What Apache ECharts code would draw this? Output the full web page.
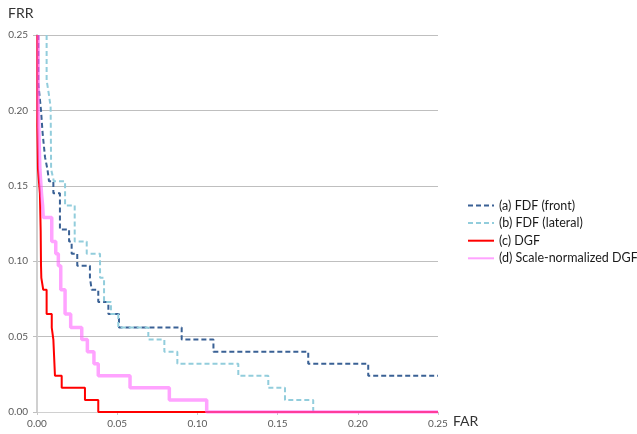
<!DOCTYPE html>
<html>
<head>
<meta charset="utf-8">
<script src="https://cdn.jsdelivr.net/npm/echarts@6/dist/echarts.min.js"></script>
<style>html,body{margin:0;padding:0;background:#fff;}#c{width:637px;height:434px;}</style>
</head>
<body>
<div id="c"></div>
<script>
// Axis ticks
var tickValues = [0, 0.05, 0.10, 0.15, 0.20, 0.25];
var seriesNames = ['(a) FDF (front)', '(b) FDF (lateral)', '(c) DGF', '(d) Scale-normalized DGF'];

// (a) FDF (front): step curve corner points
var fdfFrontFAR = [0.0008,0.0008,0.0025,0.0035,0.005,0.0065,0.0075,0.0102,0.0102,0.0143,0.0143,0.020,0.020,0.0216,0.0216,0.0251,0.0251,0.033,0.033,0.0341,0.0341,0.0382,0.0382,0.0445,0.0445,0.0511,0.0511,0.0902,0.0902,0.110,0.110,0.1691,0.1691,0.2065,0.2065,0.25];
var fdfFrontFRR = [0.25,0.218,0.200,0.185,0.169,0.161,0.153,0.153,0.145,0.145,0.121,0.121,0.113,0.113,0.105,0.105,0.097,0.097,0.089,0.089,0.081,0.081,0.073,0.073,0.065,0.065,0.056,0.056,0.048,0.048,0.040,0.040,0.032,0.032,0.024,0.024];

// (b) FDF (lateral)
var fdfLatFAR = [0.006,0.006,0.0075,0.0085,0.0088,0.0105,0.0175,0.0175,0.0235,0.0235,0.031,0.031,0.0393,0.0393,0.0418,0.0418,0.0461,0.0461,0.0507,0.0507,0.0694,0.0694,0.0794,0.0794,0.0875,0.0875,0.1255,0.1255,0.1442,0.1442,0.1546,0.1546,0.1722,0.1722];
var fdfLatFRR = [0.25,0.220,0.210,0.202,0.161,0.153,0.153,0.137,0.137,0.113,0.113,0.105,0.105,0.089,0.089,0.073,0.073,0.065,0.065,0.056,0.056,0.048,0.048,0.040,0.040,0.032,0.032,0.024,0.024,0.016,0.016,0.008,0.008,0];

// (c) DGF
var dgfFAR = [0.0002,0.0002,0.0006,0.0006,0.0012,0.0018,0.0023,0.0025,0.0027,0.0039,0.0039,0.006,0.006,0.0092,0.0092,0.0102,0.0102,0.0112,0.0112,0.0154,0.0154,0.0299,0.0299,0.0382,0.0382,0.25];
var dgfFRR = [0.25,0.190,0.190,0.161,0.161,0.145,0.120,0.097,0.089,0.089,0.081,0.081,0.065,0.065,0.056,0.056,0.048,0.048,0.024,0.024,0.016,0.016,0.008,0.008,0,0];

// (d) Scale-normalized DGF
var sndgfFAR = [0.0008,0.0008,0.0012,0.0018,0.0028,0.0035,0.0039,0.0092,0.0092,0.0117,0.0117,0.0133,0.0133,0.0148,0.0148,0.0175,0.0175,0.021,0.021,0.0279,0.0279,0.0314,0.0314,0.0355,0.0355,0.0382,0.0382,0.058,0.058,0.0825,0.0825,0.1058,0.1058,0.25];
var sndgfFRR = [0.25,0.200,0.185,0.161,0.145,0.137,0.129,0.129,0.113,0.113,0.105,0.105,0.097,0.097,0.081,0.081,0.065,0.065,0.056,0.056,0.048,0.048,0.040,0.040,0.032,0.032,0.024,0.024,0.016,0.016,0.008,0.008,0,0];

function zip(xs, ys) { return xs.map(function (x, i) { return [x, ys[i]]; }); }

var chart = echarts.init(document.getElementById('c'), null, {renderer: 'canvas'});
var font = 'Lato, "Open Sans", sans-serif';
chart.setOption({
  animation: false,
  backgroundColor: '#fff',
  grid: {left: 37, right: 199, top: 35, bottom: 22, containLabel: false},
  xAxis: {
    type: 'value', min: tickValues[0], max: tickValues[tickValues.length - 1], interval: 0.05,
    axisLine: {show: true, onZero: false, lineStyle: {color: '#d0d0d0', width: 1}},
    axisTick: {show: true, length: 3, lineStyle: {color: '#c8c8c8'}},
    splitLine: {show: false},
    axisLabel: {color: '#595959', fontSize: 10, fontFamily: font, margin: 7,
      formatter: function (v) { return v.toFixed(2); }}
  },
  yAxis: {
    type: 'value', min: tickValues[0], max: tickValues[tickValues.length - 1], interval: 0.05,
    axisLine: {show: true, lineStyle: {color: '#d0d0d0', width: 2}},
    axisTick: {show: true, length: 4, lineStyle: {color: '#bfbfbf'}},
    splitLine: {show: true, lineStyle: {color: '#bfbfbf', width: 1}},
    axisLabel: {color: '#595959', fontSize: 10, fontFamily: font, margin: 9,
      formatter: function (v) { return v.toFixed(2); }}
  },
  legend: {
    orient: 'vertical', left: 462, top: 194, itemWidth: 26, itemHeight: 14, itemGap: 4.6,
    itemStyle: {opacity: 0, borderWidth: 0},
    textStyle: {color: '#1a1a1a', fontSize: 12.5, fontFamily: font, padding: [0, 0, 0, 0]},
    data: seriesNames
  },
  graphic: [
    {type: 'text', left: 8, top: 6, style: {text: 'FRR', fontSize: 14, fontFamily: font, fill: '#333'}},
    {type: 'text', left: 453, top: 414, style: {text: 'FAR', fontSize: 14, fontFamily: font, fill: '#333'}}
  ],
  series: [
    {name: seriesNames[0], type: 'line', symbol: 'none', z: 2, clip: true,
      lineStyle: {color: '#3a6195', width: 2, type: [5, 3]}, itemStyle: {color: '#3a6195'},
      data: zip(fdfFrontFAR, fdfFrontFRR)},
    {name: seriesNames[1], type: 'line', symbol: 'none', z: 2, clip: true,
      lineStyle: {color: '#92cddc', width: 2, type: [5, 3]}, itemStyle: {color: '#92cddc'},
      data: zip(fdfLatFAR, fdfLatFRR)},
    {name: seriesNames[2], type: 'line', symbol: 'none', z: 3, clip: true,
      lineStyle: {color: '#ff0000', width: 2}, itemStyle: {color: '#ff0000'},
      data: zip(dgfFAR, dgfFRR)},
    {name: seriesNames[3], type: 'line', symbol: 'none', z: 4, clip: true,
      lineStyle: {color: '#ff66ff', width: 3.5, opacity: 0.6}, itemStyle: {color: '#ff9cff'},
      data: zip(sndgfFAR, sndgfFRR)}
  ]
});
</script>
</body>
</html>
